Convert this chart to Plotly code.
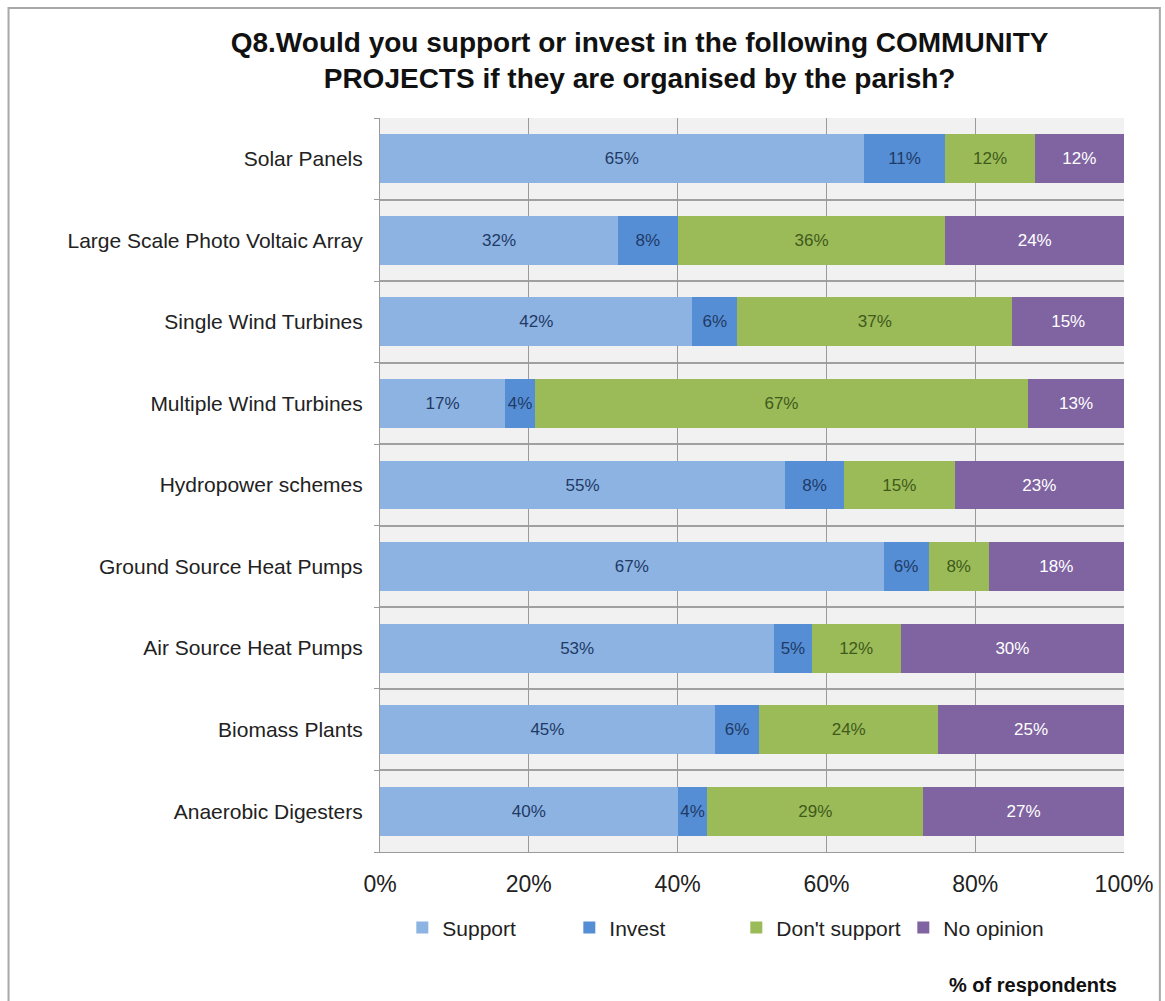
import plotly.graph_objects as go

categories = [
    "Solar Panels",
    "Large Scale Photo Voltaic Array",
    "Single Wind Turbines",
    "Multiple Wind Turbines",
    "Hydropower schemes",
    "Ground Source Heat Pumps",
    "Air Source Heat Pumps",
    "Biomass Plants",
    "Anaerobic Digesters",
]
support = [65, 32, 42, 17, 55, 67, 53, 45, 40]
invest = [11, 8, 6, 4, 8, 6, 5, 6, 4]
dont_support = [12, 36, 37, 67, 15, 8, 12, 24, 29]
no_opinion = [12, 24, 15, 13, 23, 18, 30, 25, 27]
x_ticks = [0, 20, 40, 60, 80, 100]
x_tick_labels = ["0%", "20%", "40%", "60%", "80%", "100%"]

series = [
    ("Support", support, "#8db3e2", "#1f3a66"),
    ("Invest", invest, "#558ed5", "#1f3a66"),
    ("Don't support", dont_support, "#9bbb59", "#3f5a1a"),
    ("No opinion", no_opinion, "#8064a2", "#ffffff"),
]

idx = list(range(len(categories)))
FONT = "Liberation Sans, Arial, sans-serif"

fig = go.Figure()
for name, vals, color, tcolor in series:
    fig.add_trace(go.Bar(
        name=name,
        y=idx,
        x=vals,
        orientation="h",
        width=0.6,
        marker=dict(color=color, line=dict(width=0)),
        text=[f"{v}%" for v in vals],
        textposition="inside",
        insidetextanchor="middle",
        textangle=0,
        constraintext="none",
        textfont=dict(family=FONT, size=17, color=tcolor),
        hoverinfo="skip",
    ))

fig.update_layout(
    barmode="stack",
    barnorm="percent",
    width=1165,
    height=1001,
    margin=dict(l=380, r=38, t=118, b=149),
    paper_bgcolor="white",
    plot_bgcolor="#f1f1f1",
    font=dict(family=FONT, size=18, color="#222222"),
    title=dict(
        text="Q8.Would you support or invest in the following COMMUNITY<br>PROJECTS if they are organised by the parish?",
        x=0.549, xanchor="center",
        y=0.948, yanchor="middle", yref="container",
        font=dict(family=FONT, size=28, color="#111111", weight="bold"),
    ),
    legend=dict(
        orientation="h",
        x=0.03, xanchor="left",
        y=-0.1035, yanchor="middle",
        font=dict(family=FONT, size=21, color="#222222"),
        entrywidth=122, entrywidthmode="pixels",
        itemsizing="constant",
        traceorder="normal",
        bgcolor="rgba(0,0,0,0)",
    ),
    showlegend=True,
)

fig.update_xaxes(
    range=[0, 100],
    tickvals=x_ticks,
    ticktext=x_tick_labels,
    showgrid=True,
    gridcolor="#9a9a9a",
    gridwidth=1,
    zeroline=False,
    showline=True,
    linecolor="#9a9a9a",
    ticks="",
    ticklabelstandoff=11,
    tickfont=dict(family=FONT, size=23, color="#222222"),
    fixedrange=True,
)

fig.update_yaxes(
    range=[len(categories) - 0.5, -0.5],
    tickvals=idx,
    ticktext=categories,
    showgrid=False,
    zeroline=False,
    showline=True,
    linecolor="#9a9a9a",
    ticks="",
    ticklabelstandoff=12,
    tickfont=dict(family=FONT, size=21, color="#222222"),
    minor=dict(
        tickvals=[i - 0.5 for i in range(len(categories) + 1)],
        showgrid=True,
        gridcolor="#a0a0a0",
        gridwidth=1.5,
        ticks="outside",
        ticklen=5,
        tickcolor="#9a9a9a",
    ),
    fixedrange=True,
)

fig.add_annotation(
    text="<b>% of respondents</b>",
    xref="paper", yref="paper",
    x=0.9935, y=-0.181,
    xanchor="right", yanchor="middle",
    showarrow=False,
    font=dict(family=FONT, size=20, color="#111111"),
)

# outer frame
fig.add_shape(
    type="rect", xref="paper", yref="paper",
    x0=-0.4993, x1=1.0482, y0=-0.25, y1=1.1499,
    line=dict(color="#a8a8a8", width=2),
    fillcolor="rgba(0,0,0,0)",
    layer="below",
)

fig.write_html(
    "out.html",
    config={"displayModeBar": False},
    post_script="document.body.style.margin='0';document.body.style.overflow='hidden';",
)
